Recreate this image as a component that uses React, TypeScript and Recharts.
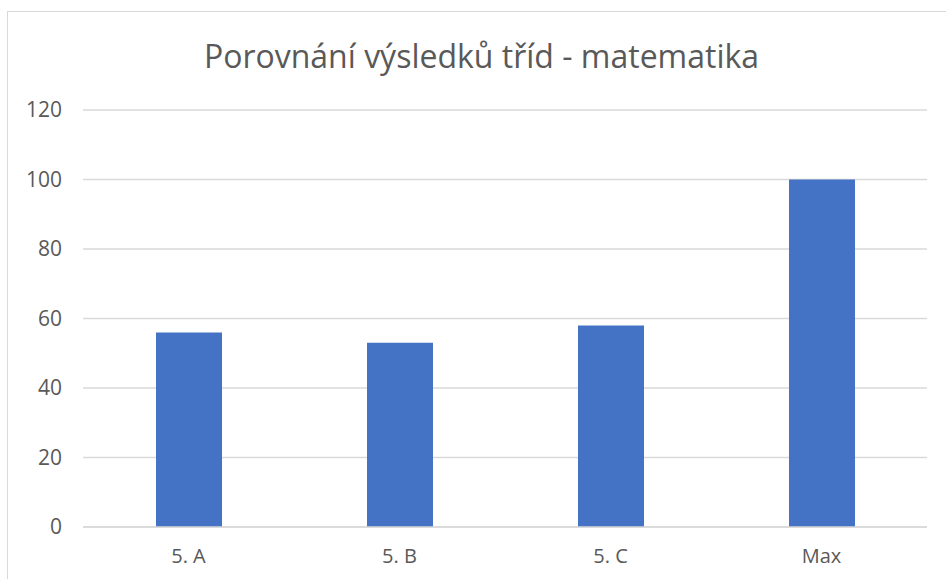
import React from 'react';
import { BarChart, Bar, XAxis, YAxis, CartesianGrid } from 'recharts';

const categories = ['5. A', '5. B', '5. C', 'Max'];
const scores = [56, 53, 58, 100];
const yTicks = [0, 20, 40, 60, 80, 100, 120];
const title = 'Porovnání výsledků tříd - matematika';

const data = categories.map((c, i) => ({ name: c, value: scores[i] }));

const FONT = '"Open Sans", "Noto Sans", sans-serif';
const TXT = '#595959';

export default function App() {
  return (
    <div style={{ position: 'absolute', left: 0, top: 0, width: 946, height: 579, overflow: 'hidden', background: '#fff' }}>
      <div style={{ position: 'absolute', left: 7, top: 11, width: 960, height: 600, border: '1px solid #d9d9d9', boxSizing: 'border-box' }} />
      <div style={{ position: 'absolute', left: 0, top: 36, width: 963, textAlign: 'center', fontFamily: FONT, fontSize: 32, color: TXT, lineHeight: '40px' }}>
        {title}
      </div>
      <div style={{ position: 'absolute', left: 0, top: 0 }}>
        <BarChart width={946} height={579} data={data} margin={{ top: 110, right: 19, left: 0, bottom: 0 }}>
          <CartesianGrid vertical={false} stroke="#d9d9d9" strokeWidth={1.5} />
          <XAxis
            dataKey="name"
            height={52}
            axisLine={{ stroke: '#d9d9d9', strokeWidth: 1.5 }}
            tickLine={false}
            tickSize={0}
            tickMargin={22}
            tick={{ fill: TXT, fontSize: 20, fontFamily: FONT }}
          />
          <YAxis
            width={83}
            domain={[0, 120]}
            ticks={yTicks}
            axisLine={false}
            tickLine={false}
            tickSize={0}
            tickMargin={21}
            tick={{ fill: TXT, fontSize: 21, fontFamily: FONT }}
          />
          <Bar dataKey="value" fill="#4472C4" barSize={66} isAnimationActive={false} />
        </BarChart>
      </div>
    </div>
  );
}
